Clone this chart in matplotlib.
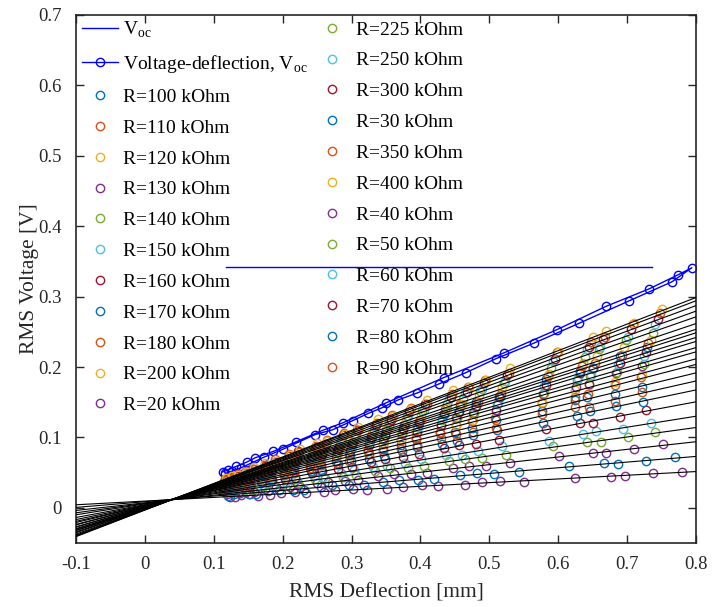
import numpy as np
import matplotlib.pyplot as plt

plt.rcParams['font.family'] = ['Liberation Serif', 'DejaVu Serif']
plt.rcParams['mathtext.fontset'] = 'custom'
plt.rcParams['mathtext.rm'] = 'Liberation Serif'

# load resistances, in legend order (sorted as strings, like the source)
r_labels = ["100", "110", "120", "130", "140", "150", "160", "170", "180", "200", "20",
            "225", "250", "300", "30", "350", "400", "40", "50", "60", "70", "80", "90"]

# RMS deflection [mm] per load, up sweep, one row per resistance
deflection_up = [
    [0.113, 0.130, 0.151, 0.183, 0.215, 0.255, 0.298, 0.346, 0.394, 0.450, 0.509, 0.577, 0.642, 0.721],
    [0.112, 0.129, 0.152, 0.182, 0.216, 0.254, 0.297, 0.345, 0.393, 0.451, 0.508, 0.576, 0.643, 0.720],
    [0.113, 0.130, 0.151, 0.182, 0.216, 0.254, 0.298, 0.346, 0.394, 0.451, 0.509, 0.577, 0.644, 0.721],
    [0.113, 0.129, 0.152, 0.182, 0.216, 0.255, 0.298, 0.346, 0.395, 0.452, 0.510, 0.578, 0.645, 0.722],
    [0.113, 0.130, 0.152, 0.183, 0.217, 0.255, 0.299, 0.347, 0.395, 0.453, 0.511, 0.579, 0.646, 0.724],
    [0.114, 0.131, 0.153, 0.184, 0.218, 0.256, 0.300, 0.348, 0.396, 0.454, 0.512, 0.580, 0.648, 0.725],
    [0.114, 0.130, 0.153, 0.184, 0.218, 0.257, 0.300, 0.349, 0.398, 0.456, 0.514, 0.582, 0.650, 0.727],
    [0.114, 0.131, 0.153, 0.184, 0.219, 0.257, 0.301, 0.350, 0.398, 0.457, 0.515, 0.583, 0.651, 0.729],
    [0.115, 0.131, 0.154, 0.185, 0.219, 0.258, 0.302, 0.351, 0.400, 0.458, 0.517, 0.585, 0.653, 0.731],
    [0.115, 0.132, 0.155, 0.186, 0.220, 0.259, 0.303, 0.352, 0.401, 0.460, 0.519, 0.587, 0.656, 0.734],
    [0.123, 0.140, 0.164, 0.198, 0.234, 0.276, 0.322, 0.374, 0.426, 0.489, 0.551, 0.624, 0.697, 0.780],
    [0.116, 0.133, 0.155, 0.187, 0.221, 0.260, 0.305, 0.354, 0.403, 0.462, 0.521, 0.590, 0.659, 0.737],
    [0.116, 0.133, 0.156, 0.188, 0.222, 0.262, 0.306, 0.355, 0.405, 0.464, 0.523, 0.592, 0.661, 0.740],
    [0.117, 0.134, 0.157, 0.189, 0.223, 0.263, 0.308, 0.357, 0.407, 0.467, 0.526, 0.596, 0.665, 0.745],
    [0.121, 0.138, 0.162, 0.195, 0.231, 0.272, 0.318, 0.369, 0.420, 0.482, 0.543, 0.615, 0.687, 0.769],
    [0.118, 0.135, 0.158, 0.189, 0.224, 0.264, 0.309, 0.359, 0.409, 0.469, 0.528, 0.598, 0.668, 0.748],
    [0.118, 0.135, 0.158, 0.190, 0.225, 0.265, 0.310, 0.360, 0.410, 0.470, 0.530, 0.600, 0.670, 0.750],
    [0.119, 0.136, 0.158, 0.191, 0.225, 0.266, 0.310, 0.361, 0.410, 0.471, 0.530, 0.601, 0.670, 0.752],
    [0.117, 0.133, 0.156, 0.188, 0.222, 0.262, 0.306, 0.356, 0.405, 0.464, 0.524, 0.593, 0.662, 0.741],
    [0.115, 0.132, 0.154, 0.186, 0.220, 0.259, 0.303, 0.352, 0.401, 0.460, 0.518, 0.587, 0.655, 0.734],
    [0.114, 0.131, 0.153, 0.184, 0.218, 0.257, 0.301, 0.349, 0.398, 0.456, 0.514, 0.582, 0.650, 0.728],
    [0.114, 0.130, 0.152, 0.183, 0.217, 0.255, 0.299, 0.347, 0.395, 0.453, 0.511, 0.578, 0.646, 0.723],
    [0.114, 0.129, 0.152, 0.182, 0.216, 0.254, 0.297, 0.345, 0.395, 0.452, 0.510, 0.576, 0.644, 0.722],
]

# RMS voltage [V] per load, up sweep
voltage_up = [
    [0.030, 0.032, 0.040, 0.044, 0.055, 0.061, 0.075, 0.083, 0.098, 0.107, 0.125, 0.137, 0.157, 0.171],
    [0.029, 0.036, 0.039, 0.050, 0.054, 0.068, 0.075, 0.091, 0.099, 0.118, 0.127, 0.149, 0.161, 0.186],
    [0.032, 0.034, 0.043, 0.048, 0.060, 0.066, 0.082, 0.091, 0.107, 0.118, 0.138, 0.150, 0.174, 0.189],
    [0.031, 0.038, 0.041, 0.053, 0.059, 0.073, 0.081, 0.098, 0.108, 0.127, 0.139, 0.162, 0.176, 0.202],
    [0.034, 0.036, 0.045, 0.051, 0.064, 0.071, 0.088, 0.097, 0.115, 0.127, 0.148, 0.163, 0.187, 0.204],
    [0.033, 0.040, 0.044, 0.056, 0.063, 0.078, 0.087, 0.104, 0.115, 0.136, 0.149, 0.173, 0.189, 0.216],
    [0.035, 0.038, 0.047, 0.054, 0.067, 0.076, 0.092, 0.104, 0.122, 0.136, 0.157, 0.174, 0.198, 0.221],
    [0.034, 0.041, 0.046, 0.058, 0.066, 0.081, 0.091, 0.110, 0.121, 0.144, 0.157, 0.183, 0.199, 0.228],
    [0.036, 0.042, 0.047, 0.060, 0.068, 0.083, 0.094, 0.112, 0.125, 0.147, 0.162, 0.187, 0.205, 0.234],
    [0.037, 0.041, 0.051, 0.059, 0.072, 0.082, 0.100, 0.113, 0.132, 0.148, 0.171, 0.190, 0.216, 0.238],
    [0.015, 0.018, 0.017, 0.021, 0.021, 0.025, 0.025, 0.030, 0.031, 0.036, 0.037, 0.043, 0.045, 0.051],
    [0.039, 0.043, 0.053, 0.061, 0.075, 0.085, 0.104, 0.118, 0.138, 0.154, 0.178, 0.198, 0.226, 0.248],
    [0.038, 0.046, 0.051, 0.065, 0.075, 0.091, 0.104, 0.124, 0.139, 0.163, 0.180, 0.208, 0.228, 0.261],
    [0.041, 0.045, 0.055, 0.065, 0.080, 0.091, 0.110, 0.125, 0.147, 0.165, 0.189, 0.211, 0.240, 0.268],
    [0.017, 0.021, 0.020, 0.026, 0.026, 0.032, 0.033, 0.040, 0.041, 0.049, 0.051, 0.060, 0.062, 0.072],
    [0.040, 0.048, 0.055, 0.069, 0.079, 0.096, 0.110, 0.132, 0.147, 0.172, 0.191, 0.221, 0.243, 0.277],
    [0.043, 0.047, 0.058, 0.067, 0.083, 0.095, 0.115, 0.131, 0.153, 0.172, 0.198, 0.221, 0.251, 0.283],
    [0.019, 0.023, 0.023, 0.029, 0.030, 0.037, 0.039, 0.048, 0.050, 0.060, 0.063, 0.074, 0.078, 0.090],
    [0.021, 0.026, 0.026, 0.033, 0.035, 0.043, 0.046, 0.056, 0.059, 0.070, 0.075, 0.088, 0.093, 0.108],
    [0.024, 0.025, 0.031, 0.033, 0.041, 0.044, 0.054, 0.059, 0.070, 0.075, 0.088, 0.095, 0.109, 0.121],
    [0.024, 0.029, 0.031, 0.039, 0.043, 0.053, 0.058, 0.070, 0.076, 0.089, 0.097, 0.112, 0.121, 0.139],
    [0.028, 0.029, 0.036, 0.040, 0.050, 0.054, 0.066, 0.073, 0.086, 0.095, 0.110, 0.120, 0.138, 0.150],
    [0.027, 0.033, 0.035, 0.045, 0.049, 0.061, 0.067, 0.081, 0.089, 0.105, 0.114, 0.133, 0.143, 0.165],
]

# down sweep, same loads
deflection_dn = [
    [0.121, 0.141, 0.168, 0.202, 0.240, 0.278, 0.324, 0.372, 0.429, 0.475, 0.624, 0.682],
    [0.121, 0.141, 0.168, 0.202, 0.240, 0.278, 0.324, 0.372, 0.429, 0.475, 0.624, 0.682],
    [0.121, 0.141, 0.168, 0.202, 0.240, 0.279, 0.325, 0.372, 0.430, 0.476, 0.625, 0.682],
    [0.121, 0.142, 0.169, 0.202, 0.241, 0.279, 0.325, 0.373, 0.430, 0.477, 0.626, 0.684],
    [0.122, 0.142, 0.169, 0.203, 0.241, 0.280, 0.326, 0.373, 0.431, 0.478, 0.627, 0.685],
    [0.122, 0.142, 0.169, 0.203, 0.242, 0.280, 0.327, 0.374, 0.432, 0.479, 0.629, 0.687],
    [0.122, 0.143, 0.170, 0.204, 0.243, 0.281, 0.328, 0.375, 0.434, 0.480, 0.631, 0.689],
    [0.122, 0.143, 0.170, 0.204, 0.243, 0.282, 0.329, 0.376, 0.434, 0.481, 0.632, 0.690],
    [0.123, 0.143, 0.171, 0.205, 0.244, 0.283, 0.330, 0.377, 0.436, 0.483, 0.634, 0.692],
    [0.123, 0.144, 0.171, 0.206, 0.245, 0.284, 0.331, 0.379, 0.438, 0.485, 0.636, 0.695],
    [0.131, 0.153, 0.182, 0.218, 0.260, 0.302, 0.352, 0.402, 0.465, 0.515, 0.676, 0.738],
    [0.124, 0.145, 0.172, 0.206, 0.246, 0.285, 0.332, 0.380, 0.439, 0.487, 0.639, 0.698],
    [0.124, 0.145, 0.173, 0.207, 0.247, 0.286, 0.334, 0.382, 0.441, 0.489, 0.642, 0.701],
    [0.125, 0.146, 0.174, 0.209, 0.248, 0.288, 0.336, 0.384, 0.444, 0.492, 0.645, 0.705],
    [0.129, 0.151, 0.179, 0.215, 0.256, 0.297, 0.346, 0.397, 0.458, 0.507, 0.666, 0.728],
    [0.126, 0.147, 0.174, 0.209, 0.249, 0.289, 0.337, 0.386, 0.446, 0.494, 0.648, 0.708],
    [0.126, 0.147, 0.175, 0.210, 0.250, 0.290, 0.338, 0.387, 0.447, 0.495, 0.650, 0.710],
    [0.126, 0.147, 0.175, 0.210, 0.250, 0.290, 0.338, 0.387, 0.447, 0.495, 0.650, 0.710],
    [0.124, 0.145, 0.173, 0.207, 0.247, 0.287, 0.334, 0.382, 0.442, 0.489, 0.642, 0.701],
    [0.123, 0.144, 0.171, 0.205, 0.245, 0.284, 0.331, 0.378, 0.437, 0.484, 0.636, 0.694],
    [0.122, 0.143, 0.170, 0.204, 0.243, 0.281, 0.328, 0.375, 0.434, 0.480, 0.631, 0.689],
    [0.121, 0.142, 0.169, 0.202, 0.241, 0.280, 0.326, 0.373, 0.431, 0.477, 0.627, 0.684],
    [0.121, 0.141, 0.168, 0.202, 0.240, 0.279, 0.325, 0.372, 0.430, 0.476, 0.625, 0.682],
]

voltage_dn = [
    [0.032, 0.035, 0.043, 0.049, 0.061, 0.067, 0.081, 0.089, 0.106, 0.113, 0.153, 0.162],
    [0.031, 0.038, 0.043, 0.054, 0.061, 0.074, 0.082, 0.097, 0.108, 0.123, 0.157, 0.175],
    [0.034, 0.038, 0.047, 0.054, 0.066, 0.074, 0.089, 0.098, 0.117, 0.125, 0.168, 0.179],
    [0.033, 0.041, 0.046, 0.058, 0.066, 0.079, 0.089, 0.105, 0.118, 0.134, 0.171, 0.191],
    [0.036, 0.040, 0.050, 0.057, 0.070, 0.079, 0.094, 0.106, 0.125, 0.135, 0.181, 0.193],
    [0.035, 0.043, 0.049, 0.061, 0.070, 0.084, 0.095, 0.112, 0.126, 0.143, 0.184, 0.204],
    [0.038, 0.042, 0.052, 0.061, 0.074, 0.084, 0.100, 0.112, 0.133, 0.144, 0.192, 0.206],
    [0.036, 0.045, 0.051, 0.064, 0.074, 0.088, 0.101, 0.118, 0.133, 0.151, 0.194, 0.216],
    [0.039, 0.044, 0.055, 0.063, 0.078, 0.088, 0.105, 0.118, 0.140, 0.151, 0.202, 0.217],
    [0.038, 0.047, 0.054, 0.067, 0.078, 0.093, 0.106, 0.125, 0.142, 0.160, 0.206, 0.229],
    [0.016, 0.019, 0.018, 0.022, 0.022, 0.027, 0.027, 0.032, 0.033, 0.038, 0.044, 0.049],
    [0.040, 0.049, 0.056, 0.070, 0.081, 0.097, 0.111, 0.130, 0.147, 0.166, 0.214, 0.238],
    [0.042, 0.048, 0.060, 0.070, 0.086, 0.097, 0.116, 0.131, 0.155, 0.169, 0.225, 0.242],
    [0.042, 0.051, 0.059, 0.074, 0.086, 0.103, 0.118, 0.138, 0.157, 0.177, 0.228, 0.254],
    [0.020, 0.020, 0.024, 0.025, 0.030, 0.032, 0.037, 0.040, 0.046, 0.048, 0.063, 0.066],
    [0.043, 0.053, 0.061, 0.076, 0.088, 0.106, 0.121, 0.142, 0.161, 0.182, 0.235, 0.261],
    [0.045, 0.051, 0.064, 0.075, 0.092, 0.105, 0.126, 0.141, 0.167, 0.182, 0.243, 0.262],
    [0.022, 0.022, 0.027, 0.029, 0.035, 0.038, 0.045, 0.048, 0.057, 0.060, 0.078, 0.083],
    [0.024, 0.025, 0.031, 0.033, 0.041, 0.044, 0.052, 0.057, 0.067, 0.071, 0.094, 0.100],
    [0.026, 0.027, 0.033, 0.037, 0.045, 0.049, 0.058, 0.063, 0.075, 0.080, 0.105, 0.112],
    [0.028, 0.030, 0.037, 0.041, 0.050, 0.055, 0.065, 0.072, 0.085, 0.091, 0.121, 0.129],
    [0.028, 0.034, 0.037, 0.046, 0.052, 0.062, 0.069, 0.081, 0.091, 0.103, 0.131, 0.145],
    [0.031, 0.033, 0.041, 0.047, 0.057, 0.064, 0.076, 0.084, 0.099, 0.107, 0.143, 0.152],
]

# open-circuit sweep (up then back down)
voc_x = [0.113, 0.121, 0.133, 0.148, 0.160, 0.186, 0.220, 0.258, 0.288, 0.350, 0.434, 0.521,
         0.598, 0.669, 0.732, 0.774, 0.794, 0.765, 0.703, 0.630, 0.565, 0.510, 0.466, 0.427,
         0.395, 0.367, 0.344, 0.324, 0.302, 0.273, 0.247, 0.200, 0.173, 0.140, 0.126, 0.117]
voc_y = [0.051, 0.054, 0.059, 0.065, 0.071, 0.080, 0.094, 0.110, 0.121, 0.149, 0.185, 0.220,
         0.253, 0.286, 0.311, 0.331, 0.341, 0.321, 0.294, 0.262, 0.234, 0.212, 0.192, 0.176,
         0.163, 0.153, 0.142, 0.134, 0.124, 0.111, 0.104, 0.083, 0.072, 0.057, 0.052, 0.049]

voc_line_x = [0.118, 0.736]
voc_line_y = [0.342, 0.342]

matlab_colors = ["#0072BD", "#D95319", "#EDB120", "#7E2F8E", "#77AC30", "#4DBEEE", "#A2142F"]

fig = plt.figure(figsize=(7.12, 6.07), dpi=100)
ax = fig.add_axes([0.1067, 0.1054, 0.8708, 0.8699])

h_line, = ax.plot(voc_line_x, voc_line_y, color="blue", lw=1.0, label="V$_{\\mathregular{oc}}$")
h_voc, = ax.plot(voc_x, voc_y, "o-", color="blue", mfc="none", ms=6, mew=1.0, lw=1.0,
                 label="Voltage-deflection, V$_{\\mathregular{oc}}$")

handles = [h_line, h_voc]
for i, lab in enumerate(r_labels):
    c = matlab_colors[i % len(matlab_colors)]
    xd = deflection_up[i] + deflection_dn[i]
    yd = voltage_up[i] + voltage_dn[i]
    h, = ax.plot(xd, yd, "o", color=c, mfc="none", ms=6, mew=1.0, label=f"R={lab} kOhm")
    handles.append(h)

# linear fit per load, drawn across the whole x range
xs = np.array([-0.1, 0.8])
for i in range(len(r_labels)):
    p = np.polyfit(deflection_up[i] + deflection_dn[i], voltage_up[i] + voltage_dn[i], 1)
    ax.plot(xs, np.polyval(p, xs), color="black", lw=0.8, zorder=3)

ax.set_xlim(-0.1, 0.8)
ax.set_ylim(-0.05, 0.7)
xt = np.round(np.arange(-0.1, 0.81, 0.1), 1)
yt = np.round(np.arange(0, 0.71, 0.1), 1)
ax.set_xticks(xt)
ax.set_yticks(yt)
ax.set_xticklabels([f"{v:g}" for v in xt])
ax.set_yticklabels([f"{v:g}" for v in yt])
ax.tick_params(direction="in", top=True, right=True, length=6, width=1.0,
               labelsize=13.5, colors="#262626")
ax.tick_params(axis="x", pad=9)
ax.tick_params(axis="y", pad=10)
for s in ax.spines.values():
    s.set_linewidth(1.2)
    s.set_color("#262626")

ax.set_xlabel("RMS Deflection [mm]", fontsize=15.5, color="#262626", labelpad=8)
ax.set_ylabel("RMS Voltage [V]", fontsize=15.5, color="#262626", labelpad=0)

ax.legend(handles=handles, ncol=2, loc="upper left", bbox_to_anchor=(0.006, 0.995),
          frameon=False, fontsize=14, handlelength=1.85, handletextpad=0.3,
          columnspacing=0.3, labelspacing=0.68, borderaxespad=0.0, borderpad=0.1)

plt.savefig("out.png", dpi=100)
